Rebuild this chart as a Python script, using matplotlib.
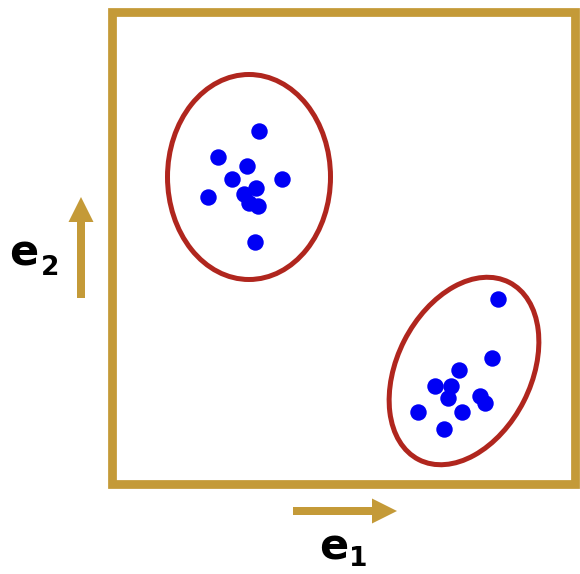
import matplotlib.pyplot as plt
from matplotlib.patches import Ellipse, Rectangle, FancyArrow

# points of the two clusters (pixel-like units, y up)
c1_x = [259, 218, 247, 232, 282, 208, 256, 244, 249, 258, 255]
c1_y = [443, 417, 408, 395, 395, 377, 386, 380, 371, 368, 332]
c2_x = [498, 492, 459, 435, 451, 448, 480, 485, 418, 462, 444]
c2_y = [275, 216, 204, 188, 188, 176, 178, 171, 162, 162, 145]

# ellipses: center x, center y, width, height, angle
ell_cx = [249, 464]
ell_cy = [397, 203]
ell_w = [163, 199]
ell_h = [205, 134]
ell_ang = [0, 63]

gold = '#C49A38'
red = '#B0261E'

fig = plt.figure(figsize=(5.8, 5.74), dpi=100)
ax = fig.add_axes([0, 0, 1, 1])
ax.set_xlim(0, 580)
ax.set_ylim(0, 574)
ax.axis('off')

# frame
ax.add_patch(Rectangle((111.5, 90), 463.5, 472, fill=False, ec=gold, lw=6.3))

for cx, cy, w, h, a in zip(ell_cx, ell_cy, ell_w, ell_h, ell_ang):
    ax.add_patch(Ellipse((cx, cy), w, h, angle=a, fill=False, ec=red, lw=3.6))

ax.scatter(c1_x, c1_y, s=140, color='#0000F5', zorder=3, lw=0)
ax.scatter(c2_x, c2_y, s=140, color='#0000F5', zorder=3, lw=0)

# basis arrows
ax.add_patch(FancyArrow(81, 276, 0, 101, width=8, head_width=25, head_length=25,
                        length_includes_head=True, color=gold, lw=0))
ax.add_patch(FancyArrow(293, 63, 104, 0, width=8, head_width=25, head_length=25,
                        length_includes_head=True, color=gold, lw=0))

ax.text(9, 309, 'e', fontsize=31, fontweight='bold', ha='left', va='baseline')
ax.text(41, 299, '2', fontsize=19, fontweight='bold', ha='left', va='baseline')
ax.text(319, 14, 'e', fontsize=31, fontweight='bold', ha='left', va='baseline')
ax.text(349, 8, '1', fontsize=19, fontweight='bold', ha='left', va='baseline')

fig.savefig('out.png', dpi=100)
